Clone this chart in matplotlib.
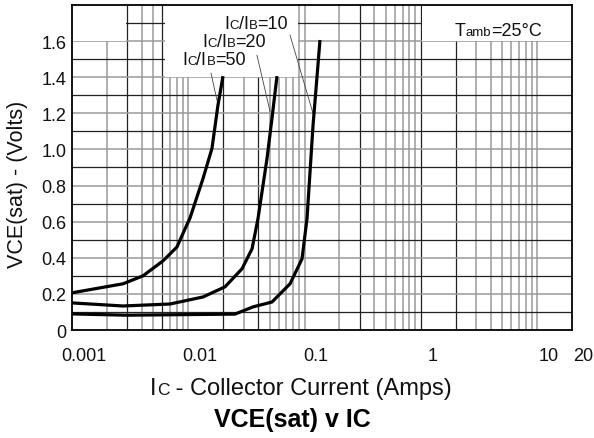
import matplotlib
matplotlib.use('Agg')
import matplotlib.pyplot as plt
from matplotlib.offsetbox import TextArea, HPacker, AnnotationBbox
from matplotlib.transforms import ScaledTranslation
from matplotlib.patches import Rectangle
from matplotlib.ticker import NullLocator

plt.rcParams['font.family'] = ['Liberation Sans', 'DejaVu Sans']

# ---------------- data ----------------
ic_50 = [0.001, 0.00275, 0.00408, 0.00607, 0.00800, 0.00938, 0.01035, 0.0134, 0.0160, 0.0180, 0.0199]
v_50 = [0.206, 0.256, 0.300, 0.383, 0.460, 0.560, 0.620, 0.839, 1.006, 1.244, 1.406]

ic_20 = [0.001, 0.00275, 0.00697, 0.0134, 0.0207, 0.0290, 0.0354, 0.0398, 0.0476, 0.0525, 0.0580]
v_20 = [0.150, 0.133, 0.144, 0.183, 0.239, 0.339, 0.450, 0.617, 0.950, 1.172, 1.406]

ic_10 = [0.001, 0.00297, 0.0252, 0.0361, 0.0525, 0.0751, 0.0952, 0.1051, 0.1184, 0.1359]
v_10 = [0.089, 0.082, 0.088, 0.128, 0.155, 0.256, 0.394, 0.617, 1.133, 1.606]

x_ticks = [0.001, 0.01, 0.1, 1, 10, 20]
x_tick_labels = ['0.001', '0.01', '0.1', '1', '10', '20']
y_ticks = [0, 0.2, 0.4, 0.6, 0.8, 1.0, 1.2, 1.4, 1.6]
y_tick_labels = ['0', '0.2', '0.4', '0.6', '0.8', '1.0', '1.2', '1.4', '1.6']

# labels: (text center, leader start, leader end)
ratio_labels = ['10', '20', '50']
label_pos = [(0.0383, 1.70), (0.02475, 1.60), (0.01665, 1.50)]
leader_start = [(0.0751, 1.633), (0.0390, 1.522), (0.0157, 1.422)]
leader_end = [(0.1184, 1.200), (0.0505, 1.211), (0.01767, 1.272)]

# ---------------- figure ----------------
W, H = 594, 439
fig = plt.figure(figsize=(W / 100, H / 100), dpi=100)
ax = fig.add_axes([72 / W, 1 - 331 / H, 500 / W, 325 / H])
ax.set_xscale('log')
ax.set_xlim(0.001, 20)
ax.set_ylim(0, 1.8)

dark = '#222222'
grey = '#9a9a9a'

# vertical grid (log rule)
dark_v = [0.003, 0.006, 0.02, 0.04, 0.3, 1, 2]
for k in range(-3, 2):
    for m in range(1, 10):
        v = m * 10.0 ** k
        if 0.001 < v < 20:
            isdark = any(abs(v - d) / d < 1e-6 for d in dark_v)
            ax.axvline(v, color=dark if isdark else grey,
                       lw=0.9 if isdark else 1.1, zorder=1)
# horizontal grid every 0.1
for i in range(1, 18):
    yv = i / 10
    isdark = (i % 2 == 1)
    ax.axhline(yv, color=dark if isdark else grey,
               lw=0.9 if isdark else 1.1, zorder=1)

# white areas behind labels
for (x0, x1, y0) in [(0.0063, 0.0875, 1.403), (1.02, 20, 1.603), (0.001, 0.00293, 1.603)]:
    ax.add_patch(Rectangle((x0, y0), x1 - x0, 1.8 - y0, facecolor='white',
                           edgecolor='none', zorder=1.5))

# curves
for xs, ys in [(ic_50, v_50), (ic_20, v_20), (ic_10, v_10)]:
    ax.plot(xs, ys, color='black', lw=2.3, zorder=3,
            solid_joinstyle='round', solid_capstyle='butt')

# leader lines
for (xa, ya), (xb, yb) in zip(leader_start, leader_end):
    ax.plot([xa, xb], [ya, yb], color='#444444', lw=0.6, zorder=2.5)

# ticks
ax.xaxis.set_minor_locator(NullLocator())
ax.set_xticks(x_ticks, x_tick_labels)
ax.set_yticks(y_ticks, y_tick_labels)
ax.tick_params(axis='x', length=0, pad=12, labelsize=13, labelcolor='#111111')
ax.tick_params(axis='y', length=0, pad=4, labelsize=13, labelcolor='#111111')
offset = ScaledTranslation(11.5 / 100, 0, fig.dpi_scale_trans)
for lab in ax.get_xticklabels():
    lab.set_transform(lab.get_transform() + offset)

for s in ax.spines.values():
    s.set_linewidth(1.3)
    s.set_color('black')
    s.set_zorder(4)


def mixed(parts, xy, coords, color='#111111', weight='normal'):
    kids = [TextArea(t, textprops=dict(size=sz, color=color, weight=weight,
                                        family=['Liberation Sans', 'DejaVu Sans']))
            for t, sz in parts]
    box = HPacker(children=kids, align='baseline', pad=0, sep=0)
    ab = AnnotationBbox(box, xy, xycoords=coords, frameon=False,
                        box_alignment=(0.5, 0.5), annotation_clip=False,
                        zorder=5)
    return ab


for r, pos in zip(ratio_labels, label_pos):
    ax.add_artist(mixed([('I', 13), ('C', 9.5), ('/I', 13), ('B', 9.5), ('=' + r, 13)],
                        pos, 'data'))

ax.add_artist(mixed([('T', 13), ('amb', 9.5), ('=25°C', 13)], (4.62, 1.66), 'data'))

# axis labels & title
fig.add_artist(mixed([('I', 17), ('C', 12.5), (' - Collector Current (Amps)', 17)],
                     (301 / W, 1 - 389 / H), 'figure fraction'))
fig.text(18 / W, 1 - 184 / H, 'VCE(sat) - (Volts)', rotation=90,
         ha='center', va='center', fontsize=15.5, color='#111111')
fig.text(292 / W, 1 - 420 / H, 'VCE(sat) v IC', ha='center', va='center',
         fontsize=18, fontweight='bold', color='black')

fig.savefig('out.png', dpi=100)
